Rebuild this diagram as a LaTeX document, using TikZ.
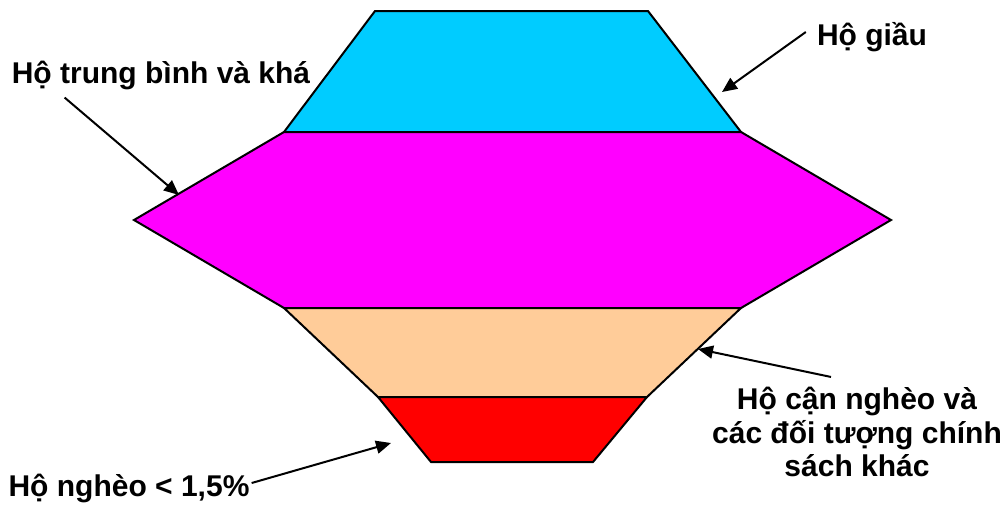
\documentclass[tikz,border=0pt]{standalone}
\usepackage{fontspec}
\setmainfont{Liberation Sans}
\usetikzlibrary{arrows.meta}
\definecolor{giaucol}{HTML}{00CCFF}
\definecolor{khacol}{HTML}{FF00FF}
\definecolor{cancol}{HTML}{FFCC99}
\definecolor{ngheocol}{HTML}{FF0000}
\begin{document}
\begin{tikzpicture}[x=1pt, y=-1pt,
    layer/.style={draw, line width=2pt, line join=miter},
    labl/.style={font=\fontsize{30}{33.5}\selectfont\bfseries,
                 align=center, inner sep=0pt},
    arr/.style={-{Triangle[length=15pt,width=13pt]}, line width=2pt}
  ]
  \useasboundingbox (0,0) rectangle (1006,504);
  %% --- Layers (top to bottom) ---
  % Rich households
  \fill[giaucol]  (375,11) -- (648,11) -- (741,132) -- (284,132) -- cycle;
  \draw[layer]    (375,11) -- (648,11) -- (741,132) -- (284,132) -- cycle;
  % Middle and well-off households
  \fill[khacol]   (284,132) -- (741,132) -- (891,220) -- (741,308)
                  -- (284,308) -- (134,220) -- cycle;
  \draw[layer]    (284,132) -- (741,132) -- (891,220) -- (741,308)
                  -- (284,308) -- (134,220) -- cycle;
  % Near-poor households
  \fill[cancol]   (284,308) -- (741,308) -- (647,397) -- (378,397) -- cycle;
  \draw[layer]    (284,308) -- (741,308) -- (647,397) -- (378,397) -- cycle;
  % Poor households
  \fill[ngheocol] (378,397) -- (647,397) -- (593,462) -- (431,462) -- cycle;
  \draw[layer]    (378,397) -- (647,397) -- (593,462) -- (431,462) -- cycle;

  %% --- Arrow heads on the layer edges ---
  \coordinate (giauHead)  at (722,92);
  \coordinate (khaHead)   at (179,195);
  \coordinate (canHead)   at (698,349);
  \coordinate (ngheoHead) at (391,443);

  %% --- Labels ---
  \node[labl] (giau)  at (872,37)  {Hộ giầu};
  \node[labl] (kha)   at (161,75)  {Hộ trung bình và khá};
  \node[labl] (can)   at (857,432) {Hộ cận nghèo và\\các đối tượng chính\\sách khác};
  \node[labl] (ngheo) at (129,488) {Hộ nghèo < 1,5\%};

  %% --- Connectors ---
  \draw[arr] ([shift={(-11,-5)}]giau.west)      -- (giauHead);
  \draw[arr] ([shift={(53,8)}]kha.south west)   -- (khaHead);
  \draw[arr] ([shift={(-26,-10)}]can.north)     -- (canHead);
  \draw[arr] ([shift={(2,-5)}]ngheo.east)       -- (ngheoHead);
\end{tikzpicture}
\end{document}
